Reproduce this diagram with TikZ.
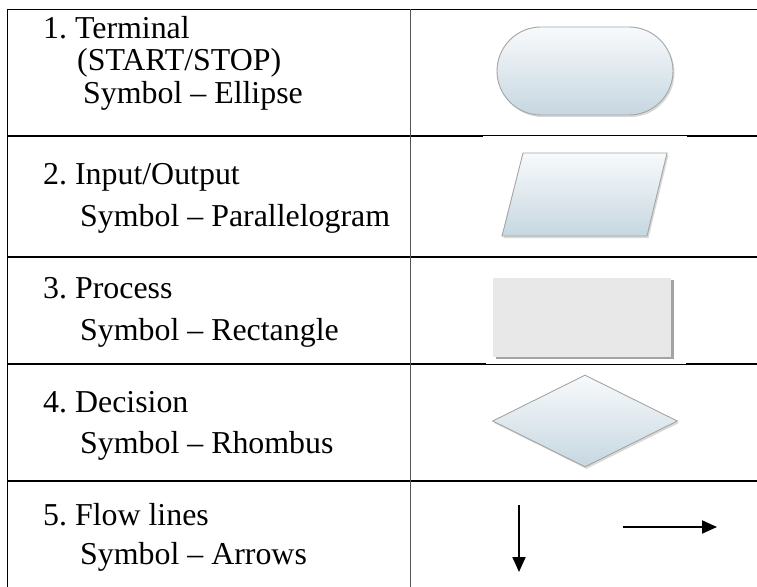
\documentclass[tikz,border=0pt]{standalone}
\usepackage{fontspec}
\setmainfont{Liberation Serif}
\frenchspacing
\usetikzlibrary{shapes.geometric, shapes.misc, arrows.meta, shadows}

\definecolor{shapetop}{HTML}{F8FAFC}
\definecolor{shapebot}{HTML}{C6D7E0}
\definecolor{shapeedge}{HTML}{A5A5A5}
\definecolor{procfill}{HTML}{E8E8E8}
\definecolor{gridgray}{HTML}{555555}

\begin{document}
\begin{tikzpicture}[
    x=1bp, y=-1bp,
    every node/.style={font=\fontsize{32}{36}\selectfont},
    label/.style={anchor=base west, inner sep=0pt},
    flowshape/.style={draw=shapeedge, line width=0.9bp, top color=shapetop, bottom color=shapebot, inner sep=0pt,
        drop shadow={shadow xshift=1.5bp, shadow yshift=-2bp, opacity=0.3, fill=gray}},
    terminal/.style={flowshape, rounded rectangle, minimum width=176bp, minimum height=88bp},
    process/.style={rectangle, fill=procfill, draw=none, minimum width=178bp, minimum height=79bp, inner sep=0pt,
        drop shadow={shadow xshift=2.5bp, shadow yshift=-2.5bp, opacity=0.6, fill=gray!80!black}},
    decision/.style={flowshape, diamond, minimum width=185bp, minimum height=92bp},
    flow/.style={-{Triangle[length=15bp, width=13bp]}, line width=2bp},
    rule/.style={line width=1.8bp},
    thinrule/.style={line width=1bp}
]
    \useasboundingbox (0,0) rectangle (757,587);

    % Table rules
    \draw [rule] (7,9.5) -- (480,9.5);
    \draw [thinrule] (480,9.5) -- (692,9.5);
    \draw [rule] (692,9.5) -- (757,9.5);
    \draw [rule] (7,136) -- (483,136);
    \draw [thinrule] (483,136) -- (687,136);
    \draw [rule] (687,136) -- (757,136);
    \draw [rule] (7,257) -- (757,257);
    \draw [rule] (7,364) -- (486,364);
    \draw [thinrule] (486,364) -- (686,364);
    \draw [rule] (686,364) -- (757,364);
    \draw [rule] (7,481) -- (757,481);
    \draw [line width=1.5bp] (7.3,9) -- (7.3,587);
    \draw [line width=1.3bp, gridgray] (410.7,9) -- (410.7,587);

    % Left column
    \node (name1)  [label] at (43,39)  {1. Terminal};
    \node (name1b) [label] at (77,71)  {(START/STOP)};
    \node (sym1)   [label] at (83,104) {Symbol – Ellipse};
    \node (name2)  [label] at (43,185) {2. Input/Output};
    \node (sym2)   [label] at (80,227) {Symbol – Parallelogram};
    \node (name3)  [label] at (43,298) {3. Process};
    \node (sym3)   [label] at (80,340) {Symbol – Rectangle};
    \node (name4)  [label] at (43,412) {4. Decision};
    \node (sym4)   [label] at (80,453) {Symbol – Rhombus};
    \node (name5)  [label] at (43,525) {5. Flow lines};
    \node (sym5)   [label] at (80,564) {Symbol – Arrows};

    % Right column symbols
    \node (term) [terminal] at (585,71) {};
    \path [flowshape] (523,153) -- (667,153) -- (647,236) -- (502,236) -- cycle;
    \node (proc) [process]  at (582,317) {};
    \node (dec)  [decision] at (585,421) {};

    % Flow lines
    \coordinate (down1)  at (519,505);
    \coordinate (down2)  at (519,572);
    \coordinate (right1) at (623,527);
    \coordinate (right2) at (717,527);
    \draw [flow] (down1) -- (down2);
    \draw [flow] (right1) -- (right2);

\end{tikzpicture}
\end{document}
